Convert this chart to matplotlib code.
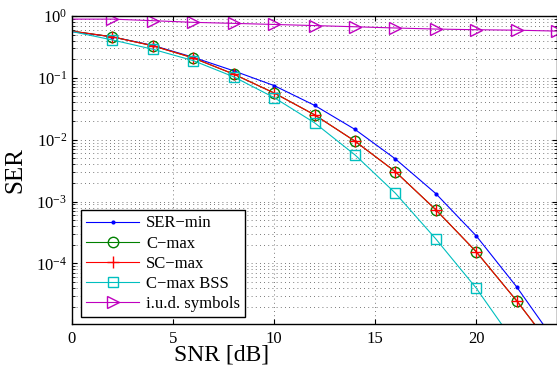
import numpy as np
import matplotlib
matplotlib.use("Agg")
import matplotlib.pyplot as plt
from matplotlib.ticker import LogLocator, FixedLocator

plt.rcParams['font.family'] = ['Liberation Serif', 'DejaVu Serif']
plt.rcParams['mathtext.fontset'] = 'stix'

snr = [0, 2, 4, 6, 8, 10, 12, 14, 16, 18, 20, 22, 24]

ser_min = [0.56, 0.46, 0.335, 0.215, 0.13, 0.075, 0.036, 0.0147, 0.0049, 0.00135, 2.8e-4, 4.2e-5, 5e-6]
c_max = [0.57, 0.46, 0.33, 0.21, 0.115, 0.057, 0.0253, 0.0095, 0.00305, 7.4e-4, 1.55e-4, 2.5e-5, 3.5e-6]
sc_max = [0.57, 0.46, 0.33, 0.21, 0.115, 0.057, 0.0253, 0.0095, 0.00305, 7.4e-4, 1.55e-4, 2.5e-5, 3.5e-6]
c_max_bss = [0.56, 0.41, 0.29, 0.19, 0.104, 0.048, 0.0188, 0.0057, 0.00137, 2.5e-4, 4e-5, 4.7e-6, 5e-7]
iud = [0.89, 0.89, 0.84, 0.79, 0.76, 0.73, 0.70, 0.67, 0.64, 0.615, 0.60, 0.59, 0.57]

fig = plt.figure(figsize=(5.57, 3.71), dpi=100)
ax = fig.add_axes([72/557, 1 - 324/371, 485/557, 308/371])

me = slice(1, None)
ax.plot(snr, ser_min, color=(0, 0, 1), lw=0.8, marker='.', ms=4, markevery=me, label='SER\u2212min')
ax.plot(snr, c_max, color=(0, 0.5, 0), lw=0.8, marker='o', ms=7.5, mfc='none', markevery=me, label='C\u2212max')
ax.plot(snr, sc_max, color=(1, 0, 0), lw=0.8, marker='+', ms=9, markevery=me, label='SC\u2212max')
ax.plot(snr, c_max_bss, color=(0, 0.75, 0.75), lw=0.8, marker='s', ms=6.5, mfc='none', markevery=me, label='C\u2212max BSS')
ax.plot(snr, iud, color=(0.75, 0, 0.75), lw=0.8, marker='>', ms=8.5, mfc='none', markevery=me, label='i.u.d. symbols')

ax.set_yscale('log')
ax.set_xlim(0, 24)
ax.set_ylim(1.05e-5, 1)
ax.xaxis.set_major_locator(FixedLocator([0, 5, 10, 15, 20]))
ax.yaxis.set_major_locator(LogLocator(base=10, numticks=10))
ax.yaxis.set_minor_locator(LogLocator(base=10, subs=np.arange(2, 10), numticks=20))

ax.tick_params(which='both', direction='in', top=True, right=True, labelsize=12)
ax.tick_params(axis='y', which='minor', labelleft=False)
ax.tick_params(axis='x', pad=5)
ax.grid(True, which='major', axis='both', linestyle=(0, (1, 4)), color='0.3', lw=0.6)
ax.grid(True, which='minor', axis='y', linestyle=(0, (1, 4)), color='0.3', lw=0.6)

for s in ax.spines.values():
    s.set_linewidth(1.0)

ax.set_ylabel('SER', fontsize=18)
ax.yaxis.set_label_coords(-0.094, 0.5)
ax.set_xlabel('SNR [dB]', fontsize=17)
ax.xaxis.set_label_coords(0.309, -0.068)

leg = ax.legend(loc='lower left', bbox_to_anchor=(9/485, 7/308), borderaxespad=0, fontsize=12,
                fancybox=False, framealpha=1, edgecolor='black',
                handlelength=3.2, borderpad=0.3, labelspacing=0.25, handletextpad=0.4)
leg.get_frame().set_linewidth(1.0)

fig.savefig('out.png', dpi=100)
